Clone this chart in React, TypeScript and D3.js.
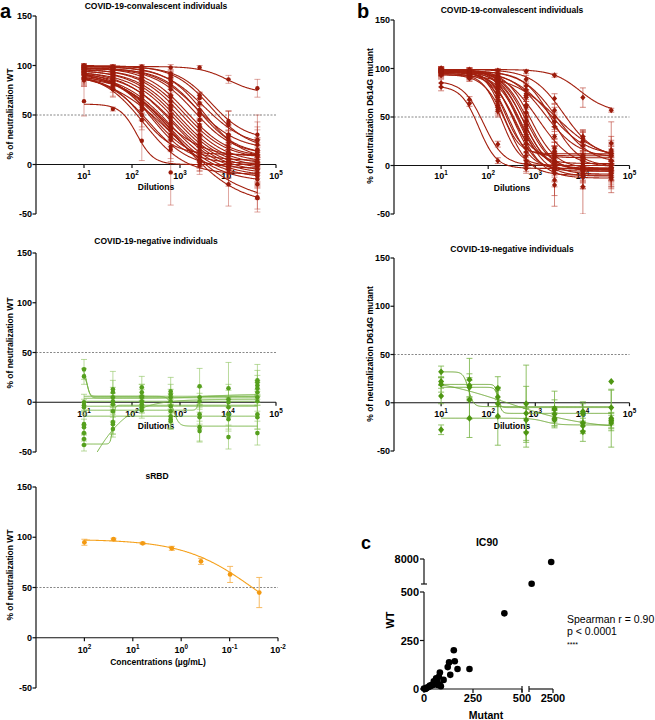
import React from "react";
import * as d3 from "d3";

const FONT = "'Liberation Sans', Arial, Helvetica, sans-serif";

// ---------------- data ----------------
const dilutions = [10, 40, 160, 640, 2560, 10240, 40960];
const dilutionTickExps = [1, 2, 3, 4, 5];
const concentrations = [100, 25, 6.25, 1.5625, 0.390625, 0.09765625, 0.0244140625];
const concentrationTickExps = [2, 1, 0, -1, -2];
const percentTicks = [150, 100, 50, 0, -50];
const halfLine = 50;

// panel a, convalescent, WT: % neutralization per sample at each dilution
const wtConvValues = [
  [100, 99, 99, 98, 98, 86, 77],
  [64, 56, 24, -8, -1, 0, -1],
  [98, 97, 95, 88, 70, 42, 30],
  [99, 98, 96, 85, 62, 40, 25],
  [97, 96, 92, 80, 52, 30, 20],
  [96, 95, 90, 76, 50, 25, 15],
  [98, 95, 88, 70, 45, 22, 12],
  [95, 93, 86, 68, 40, 18, 10],
  [97, 94, 84, 64, 38, 15, 5],
  [94, 92, 82, 60, 35, 12, 3],
  [96, 92, 80, 58, 30, 10, 0],
  [93, 90, 78, 55, 28, 8, -2],
  [92, 88, 76, 50, 25, 5, -5],
  [95, 90, 74, 48, 22, 3, -8],
  [91, 87, 72, 45, 20, 2, -10],
  [90, 85, 70, 42, 18, 0, -12],
  [94, 88, 68, 40, 15, -2, -15],
  [89, 84, 66, 36, 12, -5, -33],
  [92, 84, 63, 35, 4, -20, -34],
  [88, 82, 60, 30, 8, 5, 2],
  [93, 84, 58, 28, 5, 2, 0],
  [87, 80, 55, 25, 3, -3, -5],
  [91, 83, 50, 18, 2, -8, -20],
  [86, 76, 45, 15, 8, 10, 15],
  [99, 97, 94, 90, 52, 30, 8],
  [100, 98, 97, 92, 67, 44, 24],
  [96, 94, 90, 82, 55, 28, 13],
  [85, 77, 62, 38, 20, 12, 9],
];
const wtConvErrors = [
  [2, 2, 2, 3, 2, 4, 9],
  [15, 2, 20, 33, 3, 3, 3],
  [3, 3, 4, 5, 3, 12, 20],
  [2, 3, 3, 6, 8, 14, 18],
  [3, 4, 4, 7, 8, 10, 15],
  [4, 3, 5, 6, 9, 10, 12],
  [2, 3, 4, 8, 10, 12, 15],
  [4, 4, 5, 8, 10, 10, 12],
  [3, 3, 5, 6, 8, 10, 14],
  [4, 5, 6, 8, 10, 12, 14],
  [3, 4, 6, 7, 8, 12, 14],
  [5, 5, 6, 8, 10, 12, 16],
  [5, 5, 8, 10, 8, 10, 14],
  [4, 5, 8, 10, 10, 12, 15],
  [5, 5, 8, 12, 10, 10, 12],
  [6, 6, 10, 10, 10, 10, 12],
  [4, 5, 10, 12, 12, 12, 14],
  [6, 6, 10, 12, 12, 15, 12],
  [5, 5, 8, 12, 10, 22, 14],
  [6, 6, 8, 10, 10, 10, 10],
  [5, 5, 8, 10, 8, 8, 8],
  [6, 7, 10, 12, 10, 10, 12],
  [5, 6, 12, 12, 12, 14, 15],
  [6, 8, 10, 12, 10, 10, 10],
  [2, 2, 3, 4, 8, 10, 12],
  [2, 2, 3, 4, 6, 10, 14],
  [3, 3, 4, 6, 8, 10, 12],
  [6, 8, 10, 12, 10, 10, 10],
];
// fitted curves: [top, bottom, logIC50, hill]
const wtConvFits = [
  [99, 72, 4.0, 1.5],
  [61, 0, 2.1, 2.5],
  [99, 25, 3.65, 1.2],
  [99, 18, 3.5, 1.0],
  [98, 15, 3.35, 1.0],
  [97, 10, 3.3, 1.05],
  [98, 7, 3.15, 1.0],
  [96, 6, 3.1, 1.0],
  [97, 2, 3.05, 0.95],
  [95, 0, 3.0, 0.95],
  [96, -3, 2.95, 0.9],
  [94, -5, 2.92, 0.9],
  [93, -8, 2.88, 0.85],
  [95, -10, 2.84, 0.85],
  [92, -12, 2.8, 0.85],
  [91, -14, 2.76, 0.85],
  [95, -18, 2.7, 0.8],
  [96, -40, 2.9, 0.6],
  [96, -42, 2.95, 0.7],
  [90, 4, 2.45, 1.1],
  [94, 1, 2.4, 1.1],
  [90, -4, 2.35, 1.0],
  [93, -10, 2.25, 1.0],
  [88, 10, 2.2, 1.3],
  [99, 5, 3.5, 1.1],
  [100, 15, 3.65, 1.1],
  [97, 10, 3.4, 1.1],
  [88, 8, 2.6, 1.0],
];

// panel b, convalescent, D614G mutant
const mutConvValues = [
  [100, 99, 98, 97, 93, 70, 57],
  [85, 68, 22, 2, -2, -1, -2],
  [81, 64, 5, -3, -4, -3, -3],
  [99, 98, 95, 89, 69, 30, 12],
  [98, 97, 93, 82, 57, 25, 5],
  [97, 96, 90, 78, 45, 10, 0],
  [99, 97, 92, 60, 18, 2, -5],
  [98, 96, 88, 55, 14, 0, -8],
  [100, 98, 86, 50, 10, -2, -6],
  [97, 95, 84, 46, 8, -5, -10],
  [99, 96, 82, 42, 5, -3, -4],
  [96, 94, 80, 40, 2, -8, -12],
  [98, 95, 78, 36, 0, -4, -2],
  [95, 93, 76, 32, -2, -10, -14],
  [99, 97, 74, 30, -5, 2, 5],
  [97, 94, 72, 26, -8, -6, -3],
  [96, 92, 70, 22, 10, 5, 10],
  [98, 95, 66, 18, -15, -22, 2],
  [94, 90, 62, 14, -20, -12, -8],
  [99, 96, 60, 10, 15, 8, 16],
  [97, 93, 58, 5, 12, 10, 23],
  [95, 92, 56, 0, 3, -1, 0],
  [100, 96, 84, 62, 30, 5, -2],
  [98, 97, 90, 72, 40, 20, 10],
  [96, 94, 86, 70, 45, 25, 12],
  [93, 90, 84, 74, 50, 28, 14],
];
const mutConvErrors = [
  [2, 2, 2, 2, 2, 10, 2],
  [4, 3, 3, 3, 3, 3, 3],
  [4, 3, 3, 3, 3, 3, 3],
  [2, 2, 3, 4, 5, 6, 8],
  [2, 2, 4, 5, 6, 10, 10],
  [2, 2, 5, 6, 8, 12, 12],
  [2, 2, 6, 8, 10, 10, 10],
  [2, 2, 6, 8, 10, 12, 12],
  [2, 3, 6, 8, 10, 10, 10],
  [3, 3, 6, 8, 12, 12, 12],
  [2, 3, 6, 8, 12, 12, 14],
  [3, 3, 5, 8, 12, 14, 12],
  [2, 3, 6, 8, 12, 12, 14],
  [3, 3, 6, 10, 14, 14, 14],
  [2, 3, 6, 8, 12, 10, 12],
  [3, 3, 6, 8, 14, 12, 12],
  [3, 3, 6, 8, 10, 10, 12],
  [2, 3, 6, 8, 16, 28, 12],
  [3, 3, 6, 8, 22, 12, 14],
  [2, 3, 6, 8, 12, 10, 14],
  [2, 3, 6, 8, 12, 10, 22],
  [3, 3, 6, 8, 8, 8, 8],
  [2, 2, 5, 8, 10, 10, 10],
  [2, 2, 4, 6, 8, 10, 10],
  [3, 3, 6, 8, 10, 12, 12],
  [3, 3, 6, 8, 10, 6, 12],
];
const mutConvFits = [
  [99, 55, 3.95, 1.5],
  [87, 0, 1.9, 2.0],
  [82, -3, 1.8, 2.3],
  [99, 8, 3.6, 1.3],
  [98, 2, 3.45, 1.2],
  [97, -1, 3.35, 1.5],
  [99, -3, 2.9, 1.6],
  [98, -6, 2.85, 1.6],
  [99, -5, 2.8, 1.6],
  [97, -9, 2.77, 1.6],
  [99, -4, 2.73, 1.7],
  [96, -11, 2.7, 1.6],
  [98, -3, 2.67, 1.7],
  [95, -13, 2.63, 1.6],
  [99, 2, 2.6, 1.9],
  [97, -6, 2.55, 1.8],
  [96, 8, 2.5, 2.0],
  [98, -4, 2.45, 1.8],
  [94, -10, 2.4, 1.8],
  [99, 10, 2.35, 2.2],
  [97, 12, 2.3, 2.4],
  [95, 0, 2.28, 2.2],
  [99, -2, 3.05, 1.2],
  [98, 8, 3.2, 1.2],
  [97, 10, 3.3, 1.1],
  [94, 5, 3.45, 0.9],
];

// panel a, COVID-19-negative, WT: values listed per dilution column
const wtNegColumns = [
  [33, 26, 0, -3, -5, -22, -25, -31, -37, -43],
  [13, 10, 5, 1, -2, -9, -20, -22, -27],
  [15, 10, 6, 5, 1, -2, -5, -8],
  [11, 8, 5, 1, -4, -9, -14, -17, -19],
  [16, 5, 1, -12, -15, -25, -29],
  [14, 3, 0, -5, -12, -17, -35],
  [22, 20, 17, 14, 10, 5, 1, -12, -15, -31],
];
const wtNegColumnErrors = [
  [10, 8, 8, 6, 5, 10, 8, 8, 6, 6],
  [18, 12, 10, 8, 8, 6, 12, 10, 8],
  [11, 8, 12, 8, 6, 8, 6, 8],
  [14, 10, 8, 8, 10, 12, 12, 10, 8],
  [18, 10, 8, 10, 12, 15, 10],
  [26, 15, 12, 10, 15, 12, 12],
  [16, 12, 10, 8, 10, 8, 10, 15, 12, 12],
];
const wtNegFits = [
  [33, 6, 1.06, 15],
  [26, 4.5, 1.08, 15],
  [1, 1, 2, 1],
  [-4, -4, 2, 1],
  [-8, 6, 3.38, 20],
  [6, -24, 2.87, 8],
  [-42, -3, 1.6, 20],
  [-150, 3, 1.0, 1],
  [4, 8, 3.6, 1.2],
  [-14, -14, 2, 1],
];

// panel b, COVID-19-negative, D614G mutant
const mutNegColumns = [
  [32, 22, 19, 7, -28],
  [24, 18, 16, 3, -16],
  [15, 6, -1, -14],
  [-1, -11, -18, -31],
  [-6, -7, -12, -16, -18],
  [-9, -11, -21, -24, -30],
  [22, -5, -16, -18, -19, -21],
];
const mutNegColumnErrors = [
  [6, 4, 8, 8, 5],
  [22, 12, 10, 20, 20],
  [12, 10, 14, 30],
  [40, 28, 12, 15],
  [18, 10, 8, 8, 8],
  [10, 10, 8, 8, 10],
  [0, 18, 30, 8, 8, 8],
];
const mutNegFits = [
  [32, -4, 1.58, 8],
  [19, -5, 2.2, 15],
  [28, -28, 2.4, 0.5],
  [-16, -23, 3.2, 3],
  [16, -11, 2.22, 12],
];

// sRBD (concentration in µg/mL)
const srbdValues = [95, 98, 94, 89, 76, 63, 45];
const srbdErrors = [3, 1, 1, 2, 3, 8, 15];
const srbdFit = [98, 0, -1.5, -0.6];

// panel c, IC90 (mutant vs WT)
const ic90Mutant = [0, 7, 12, 24, 34, 46, 59, 68, 70, 86, 76, 81, 100, 121, 128, 134, 152, 157, 171, 232, 410, 720, 2350, 40, 55, 62, 15, 30, 80, 50];
const ic90WT = [2, 0, 4, 10, 16, 21, 28, 38, 21, 14, 63, 85, 47, 113, 137, 73, 200, 143, 103, 103, 390, 560, 7100, 20, 30, 55, 8, 18, 22, 40];
const ic90LowTicks = [0, 250, 500];
const ic90HighYTicks = [8000];
const ic90HighXTicks = [2500];
const spearmanLines = ["Spearman r = 0.90", "p < 0.0001"];
const significance = "****";

// ---------------- helpers ----------------
type Pt = { x: number; y: number; e: number };

function fourPL(fit: number[], xv: number) {
  const [top, bottom, mid, hill] = fit;
  return bottom + (top - bottom) / (1 + Math.pow(10, (Math.log10(xv) - mid) * hill));
}

function rowsToPoints(values: number[][], errors: number[][], xs: number[]): Pt[] {
  const out: Pt[] = [];
  values.forEach((row, i) => row.forEach((v, j) => out.push({ x: xs[j], y: v, e: errors[i][j] })));
  return out;
}

function columnsToPoints(cols: number[][], errs: number[][], xs: number[]): Pt[] {
  const out: Pt[] = [];
  cols.forEach((col, j) => col.forEach((v, k) => out.push({ x: xs[j], y: v, e: errs[j][k] })));
  return out;
}

interface PanelProps {
  id: string;
  xDomain: [number, number];
  xRange: [number, number];
  yTop: number;
  yBot: number;
  title: string;
  titleX: number;
  titleY: number;
  yLabel: string;
  yLabelX: number;
  yLabelY: number;
  tickExps: number[];
  tickLabelY: number;
  xLabel: string;
  xLabelX: number;
  xLabelY: number;
  fits: number[][];
  fitSpan: [number, number];
  points: Pt[];
  lineColor: string;
  lineWidth: number;
  pointColor: string;
  errColor: string;
  errOpacity: number;
  marker: "circle" | "diamond";
  markerR: number;
}

function DosePanel(p: PanelProps) {
  const x = d3.scaleLog().domain(p.xDomain).range(p.xRange);
  const y = d3.scaleLinear().domain([-50, 150]).range([p.yBot, p.yTop]);
  const [lo, hi] = p.fitSpan;
  const grid = d3.range(0, 301).map((i) => lo * Math.pow(hi / lo, i / 300));
  const xl = p.xRange[0];
  const xr = p.xRange[1];
  const y0 = y(0);
  const cap = 3;
  return (
    <g>
      <defs>
        <clipPath id={p.id}>
          <rect x={xl} y={p.yTop - 3} width={xr - xl + 3} height={p.yBot - p.yTop + 3} />
        </clipPath>
      </defs>
      <text x={p.titleX} y={p.titleY} textAnchor="middle" fontSize={8.5} fontWeight="bold">
        {p.title}
      </text>
      <text
        transform={`translate(${p.yLabelX},${p.yLabelY}) rotate(-90)`}
        textAnchor="middle"
        fontSize={8.5}
        fontWeight="bold"
      >
        {p.yLabel}
      </text>
      <line x1={xl} x2={xr} y1={y(halfLine)} y2={y(halfLine)} stroke="#555" strokeWidth={0.7} strokeDasharray="2,1.5" />
      <line x1={xl} x2={xl} y1={p.yTop} y2={p.yBot} stroke="#111" strokeWidth={1.2} />
      {percentTicks.map((t) => (
        <g key={t}>
          <line x1={xl - 3.5} x2={xl} y1={y(t)} y2={y(t)} stroke="#111" strokeWidth={1.2} />
          <text x={xl - 4} y={y(t) + 3.2} textAnchor="end" fontSize={9} fontWeight="bold">
            {t}
          </text>
        </g>
      ))}
      <line x1={xl} x2={xr} y1={y0} y2={y0} stroke="#111" strokeWidth={1.2} />
      {p.tickExps.map((e) => {
        const tx = x(Math.pow(10, e));
        return (
          <g key={e}>
            <line x1={tx} x2={tx} y1={y0} y2={y0 + 3.5} stroke="#111" strokeWidth={1.2} />
            <text x={tx} y={p.tickLabelY} textAnchor="middle" fontSize={9} fontWeight="bold">
              10
              <tspan dy={-4} fontSize={6.3}>
                {e}
              </tspan>
            </text>
          </g>
        );
      })}
      <text x={p.xLabelX} y={p.xLabelY} textAnchor="middle" fontSize={8.5} fontWeight="bold">
        {p.xLabel}
      </text>
      <g clipPath={`url(#${p.id})`}>
        <g stroke={p.errColor} strokeOpacity={p.errOpacity} strokeWidth={1}>
          {p.points
            .filter((d) => d.e > 0)
            .map((d, i) => {
              const px = x(d.x);
              const a = y(d.y + d.e);
              const b = y(d.y - d.e);
              return (
                <g key={i}>
                  <line x1={px} x2={px} y1={a} y2={b} />
                  <line x1={px - cap} x2={px + cap} y1={a} y2={a} />
                  <line x1={px - cap} x2={px + cap} y1={b} y2={b} />
                </g>
              );
            })}
        </g>
        <g fill="none" stroke={p.lineColor} strokeWidth={p.lineWidth}>
          {p.fits.map((f, i) => {
            const path = d3
              .line<number>()
              .x((v) => x(v))
              .y((v) => y(fourPL(f, v)))(grid);
            return <path key={i} d={path || ""} />;
          })}
        </g>
      </g>
      <g fill={p.pointColor}>
        {p.points.map((d, i) => {
          const px = x(d.x);
          const py = y(d.y);
          if (p.marker === "circle") return <circle key={i} cx={px} cy={py} r={p.markerR} />;
          const r = p.markerR;
          return (
            <path
              key={i}
              d={`M${px},${py - r * 1.15}L${px + r},${py}L${px},${py + r * 1.15}L${px - r},${py}Z`}
            />
          );
        })}
      </g>
    </g>
  );
}

function Ic90Panel() {
  const xLow = d3.scaleLinear().domain([0, 500]).range([424, 522]);
  const xHigh = d3.scaleLinear().domain([500, 2500]).range([529, 553]);
  const yLow = d3.scaleLinear().domain([0, 500]).range([689, 592]);
  const yHigh = d3.scaleLinear().domain([500, 8000]).range([584, 559]);
  const px = (v: number) => (v <= 500 ? xLow(v) : xHigh(v));
  const py = (v: number) => (v <= 500 ? yLow(v) : yHigh(v));
  const ax = xLow(0);
  const ay = yLow(0);
  const sw = 1.2;
  return (
    <g>
      <text x={487} y={545.5} textAnchor="middle" fontSize={10.5} fontWeight="bold">
        IC90
      </text>
      <text transform={`translate(394,620) rotate(-90)`} textAnchor="middle" fontSize={11} fontWeight="bold">
        WT
      </text>
      <text x={486} y={719} textAnchor="middle" fontSize={10.5} fontWeight="bold">
        Mutant
      </text>
      {/* y axis, lower segment */}
      <line x1={ax} x2={ax} y1={yLow(0)} y2={yLow(500)} stroke="#111" strokeWidth={sw} />
      {ic90LowTicks.map((t) => (
        <g key={"yl" + t}>
          <line x1={ax - 4} x2={ax} y1={yLow(t)} y2={yLow(t)} stroke="#111" strokeWidth={sw} />
          <text x={ax - 5} y={yLow(t) + 4} textAnchor="end" fontSize={11} fontWeight="bold">
            {t}
          </text>
        </g>
      ))}
      {/* y axis, upper segment */}
      <line x1={ax} x2={ax} y1={yHigh(500)} y2={yHigh(8000)} stroke="#111" strokeWidth={sw} />
      <line x1={ax - 3} x2={ax + 3} y1={yHigh(500)} y2={yHigh(500)} stroke="#111" strokeWidth={sw} />
      {ic90HighYTicks.map((t) => (
        <g key={"yh" + t}>
          <line x1={ax - 4} x2={ax} y1={yHigh(t)} y2={yHigh(t)} stroke="#111" strokeWidth={sw} />
          <text x={ax - 5} y={yHigh(t) + 4} textAnchor="end" fontSize={11} fontWeight="bold">
            {t}
          </text>
        </g>
      ))}
      {/* x axis, lower segment */}
      <line x1={xLow(0)} x2={xLow(500)} y1={ay} y2={ay} stroke="#111" strokeWidth={sw} />
      <line x1={xLow(500)} x2={xLow(500)} y1={ay - 3} y2={ay + 3} stroke="#111" strokeWidth={sw} />
      {ic90LowTicks.map((t) => (
        <g key={"xl" + t}>
          <line x1={xLow(t)} x2={xLow(t)} y1={ay} y2={ay + 4} stroke="#111" strokeWidth={sw} />
          <text x={xLow(t)} y={702} textAnchor="middle" fontSize={11} fontWeight="bold">
            {t}
          </text>
        </g>
      ))}
      {/* x axis, upper segment */}
      <line x1={xHigh(500)} x2={xHigh(2500)} y1={ay} y2={ay} stroke="#111" strokeWidth={sw} />
      <line x1={xHigh(500)} x2={xHigh(500)} y1={ay - 3} y2={ay + 3} stroke="#111" strokeWidth={sw} />
      {ic90HighXTicks.map((t) => (
        <g key={"xh" + t}>
          <line x1={xHigh(t)} x2={xHigh(t)} y1={ay} y2={ay + 4} stroke="#111" strokeWidth={sw} />
          <text x={xHigh(t)} y={702} textAnchor="middle" fontSize={11} fontWeight="bold">
            {t}
          </text>
        </g>
      ))}
      <g fill="#000">
        {ic90Mutant.map((m, i) => (
          <circle key={i} cx={px(m)} cy={py(ic90WT[i])} r={3.3} />
        ))}
      </g>
      {spearmanLines.map((s, i) => (
        <text key={s} x={567} y={623 + i * 11.5} fontSize={10.5}>
          {s}
        </text>
      ))}
      <text x={567} y={647} fontSize={7}>
        {significance}
      </text>
    </g>
  );
}

const RED = { line: "#a3200f", point: "#9b1b0b", err: "#b8392c" };
const GREEN_A = { line: "#78b546", point: "#56a01e", err: "#8cc35e" };
const GREEN_B = { line: "#6aa632", point: "#4e9612", err: "#76b343" };
const ORANGE = { line: "#f5a11c", point: "#f39a12", err: "#f6b453" };

export default function App() {
  const wtConvPts = rowsToPoints(wtConvValues, wtConvErrors, dilutions);
  const mutConvPts = rowsToPoints(mutConvValues, mutConvErrors, dilutions);
  const wtNegPts = columnsToPoints(wtNegColumns, wtNegColumnErrors, dilutions);
  const mutNegPts = columnsToPoints(mutNegColumns, mutNegColumnErrors, dilutions);
  const srbdPts = rowsToPoints([srbdValues], [srbdErrors], concentrations);
  const span: [number, number] = [dilutions[0], dilutions[dilutions.length - 1]];
  const concSpan: [number, number] = [concentrations[0], concentrations[concentrations.length - 1]];

  return (
    <svg
      width={655}
      height={720}
      style={{ position: "absolute", left: 0, top: 0, background: "#fff" }}
      fontFamily={FONT}
    >
      <rect width={655} height={720} fill="#fff" />
      <text x={0} y={18} fontSize={20} fontWeight="bold">a</text>
      <text x={357} y={18} fontSize={20} fontWeight="bold">b</text>
      <text x={361} y={549} fontSize={18} fontWeight="bold">c</text>

      <DosePanel
        id="clipA1"
        xDomain={[1, 1e5]}
        xRange={[36, 276]}
        yTop={16}
        yBot={214}
        title="COVID-19-convalescent individuals"
        titleX={156}
        titleY={9}
        yLabel="% of neutralization WT"
        yLabelX={13}
        yLabelY={114}
        tickExps={dilutionTickExps}
        tickLabelY={179}
        xLabel="Dilutions"
        xLabelX={156}
        xLabelY={190}
        fits={wtConvFits}
        fitSpan={span}
        points={wtConvPts}
        lineColor={RED.line}
        lineWidth={1.1}
        pointColor={RED.point}
        errColor={RED.err}
        errOpacity={0.45}
        marker="circle"
        markerR={2.2}
      />
      <DosePanel
        id="clipB1"
        xDomain={[1, 1e5]}
        xRange={[394, 629.5]}
        yTop={20}
        yBot={214}
        title="COVID-19-convalescent individuals"
        titleX={512}
        titleY={13}
        yLabel="% of neutralization D614G mutant"
        yLabelX={373}
        yLabelY={116}
        tickExps={dilutionTickExps}
        tickLabelY={179}
        xLabel="Dilutions"
        xLabelX={512}
        xLabelY={190.5}
        fits={mutConvFits}
        fitSpan={span}
        points={mutConvPts}
        lineColor={RED.line}
        lineWidth={1.1}
        pointColor={RED.point}
        errColor={RED.err}
        errOpacity={0.6}
        marker="diamond"
        markerR={2.6}
      />
      <DosePanel
        id="clipA2"
        xDomain={[1, 1e5]}
        xRange={[36, 276]}
        yTop={253}
        yBot={452}
        title="COVID-19-negative individuals"
        titleX={156}
        titleY={243.5}
        yLabel="% of neutralization WT"
        yLabelX={13}
        yLabelY={343}
        tickExps={dilutionTickExps}
        tickLabelY={416.5}
        xLabel="Dilutions"
        xLabelX={156}
        xLabelY={428.5}
        fits={wtNegFits}
        fitSpan={span}
        points={wtNegPts}
        lineColor={GREEN_A.line}
        lineWidth={1}
        pointColor={GREEN_A.point}
        errColor={GREEN_A.err}
        errOpacity={0.6}
        marker="circle"
        markerR={2.3}
      />
      <DosePanel
        id="clipB2"
        xDomain={[1, 1e5]}
        xRange={[394, 629.5]}
        yTop={258}
        yBot={451}
        title="COVID-19-negative individuals"
        titleX={512}
        titleY={251.5}
        yLabel="% of neutralization D614G mutant"
        yLabelX={373}
        yLabelY={354}
        tickExps={dilutionTickExps}
        tickLabelY={416.5}
        xLabel="Dilutions"
        xLabelX={512}
        xLabelY={428.5}
        fits={mutNegFits}
        fitSpan={span}
        points={mutNegPts}
        lineColor={GREEN_B.line}
        lineWidth={1}
        pointColor={GREEN_B.point}
        errColor={GREEN_B.err}
        errOpacity={0.8}
        marker="diamond"
        markerR={3}
      />
      <DosePanel
        id="clipA3"
        xDomain={[1000, 0.01]}
        xRange={[36, 278]}
        yTop={487}
        yBot={688}
        title="sRBD"
        titleX={157}
        titleY={478.5}
        yLabel="% of neutralization WT"
        yLabelX={13}
        yLabelY={575}
        tickExps={concentrationTickExps}
        tickLabelY={652.5}
        xLabel="Concentrations (µg/mL)"
        xLabelX={158}
        xLabelY={664.5}
        fits={[srbdFit]}
        fitSpan={concSpan}
        points={srbdPts}
        lineColor={ORANGE.line}
        lineWidth={1.1}
        pointColor={ORANGE.point}
        errColor={ORANGE.err}
        errOpacity={0.9}
        marker="circle"
        markerR={2.4}
      />
      <Ic90Panel />
    </svg>
  );
}
